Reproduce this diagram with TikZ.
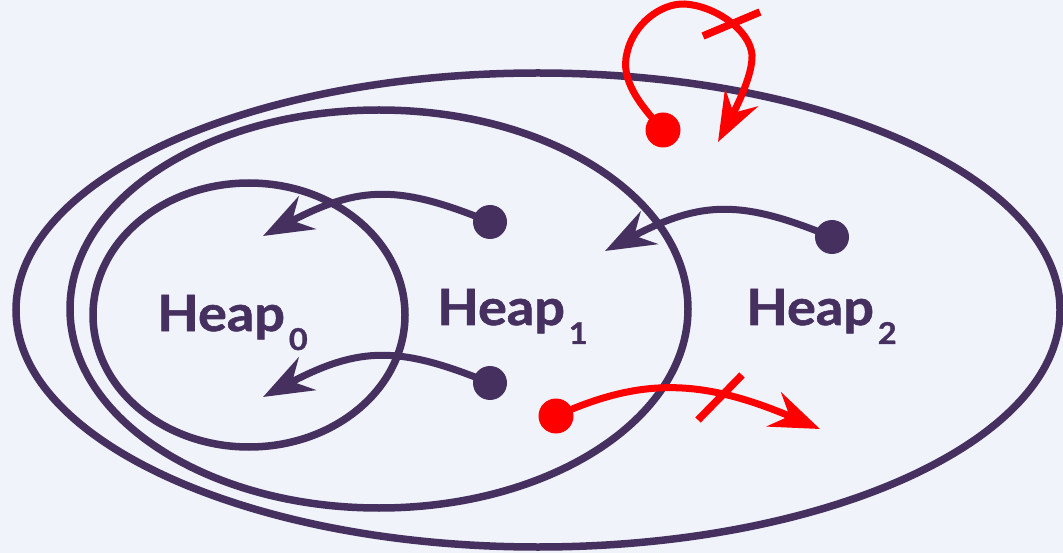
\documentclass[tikz,border=0pt]{standalone}
\usepackage{fontspec}
\setmainfont{Lato}[BoldFeatures={FakeStretch=1.08,FakeBold=1.2}]
\usetikzlibrary{arrows.meta}
\definecolor{bg}{HTML}{F0F3FA}
\definecolor{ink}{HTML}{45305F}
\definecolor{hot}{HTML}{FF0000}
\tikzset{
  ring/.style={draw=ink, line width=7.5pt},
  link/.style={draw=ink, line width=7pt, -{Stealth[length=50pt,width=37pt,inset=17pt]}},
  badlink/.style={draw=hot, line width=7pt, -{Stealth[length=50pt,width=37pt,inset=17pt]}},
  bar/.style={draw=hot, line width=7.5pt},
  dot/.style={circle, fill=ink, inner sep=0pt, minimum size=34pt},
  reddot/.style={circle, fill=hot, inner sep=0pt, minimum size=35pt},
  lbl/.style={text=ink, font=\fontsize{50}{50}\selectfont\bfseries, inner sep=0pt, anchor=base west},
}
\newcommand{\subs}[1]{\kern4pt\raisebox{-19pt}{\fontsize{30}{30}\selectfont\bfseries #1}}
\begin{document}
\begin{tikzpicture}[x=1pt,y=-1pt]
\useasboundingbox (0,0) rectangle (1063,553);
\fill[bg] (0,0) rectangle (1063,553);
% heaps
\draw[ring] (538,310) ellipse [x radius=522, y radius=237];
\draw[ring] (379,309) ellipse [x radius=309, y radius=199];
\draw[ring] (249,315) ellipse [x radius=156, y radius=132];
% labels
\node[lbl] (h0) at (157,331) {Heap\subs{0}};
\node[lbl] (h1) at (437,325) {Heap\subs{1}};
\node[lbl] (h2) at (746,325) {Heap\subs{2}};
% dots
\node[dot] (a) at (490,222) {};
\node[dot] (b) at (490,383) {};
\node[dot] (c) at (832,237) {};
\node[reddot] (d) at (663,130) {};
\node[reddot] (e) at (556,416) {};
% arrow ends
\coordinate (ta) at (263,236);
\coordinate (tb) at (263,397);
\coordinate (tc) at (605,251);
\coordinate (td) at (718,142);
\coordinate (te) at (820,429);
% dark links
\draw[link] (a.center) .. controls (400,185) and (360,185) .. (ta);
\draw[link] (b.center) .. controls (400,346) and (360,346) .. (tb);
\draw[link] (c.center) .. controls (742,200) and (702,200) .. (tc);
% red links
\draw[badlink] (e.center) .. controls (640,378) and (700,378) .. (te);
\draw[badlink] (d.center) .. controls (640,105) and (620,80) .. (627,53)
   .. controls (633,25) and (660,3) .. (685,4)
   .. controls (715,6) and (750,30) .. (752,55)
   .. controls (753,75) and (735,110) .. (td);
% crossing bars
\coordinate (x1) at (698,420);
\coordinate (x2) at (742,375);
\coordinate (x3) at (703,36);
\coordinate (x4) at (760,12);
\draw[bar] (x1) -- (x2);
\draw[bar] (x3) -- (x4);
\end{tikzpicture}
\end{document}
